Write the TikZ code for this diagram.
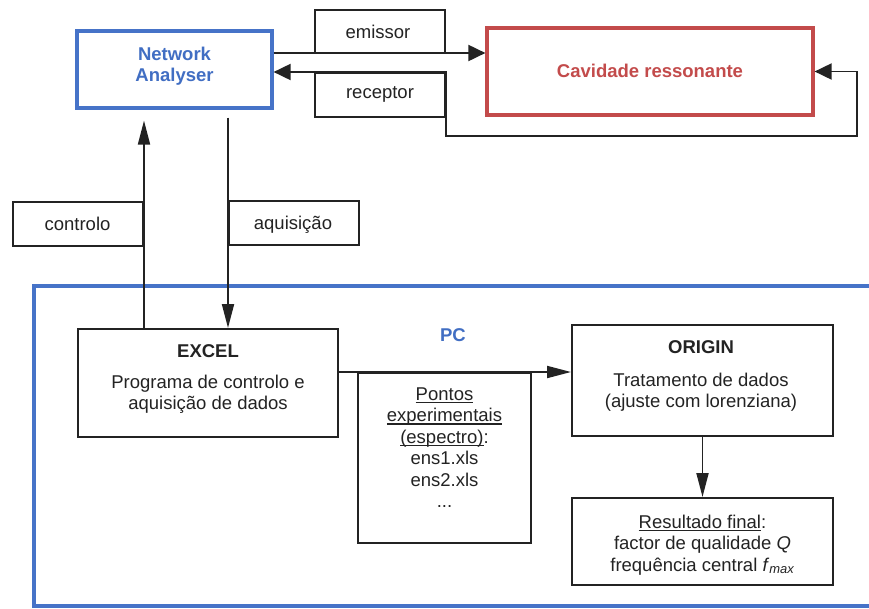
\documentclass[tikz,border=0pt]{standalone}
\usepackage{fontspec}
\setmainfont{Liberation Sans}
\usetikzlibrary{arrows.meta}
\definecolor{ink}{RGB}{35,35,35}
\definecolor{nablue}{RGB}{70,115,200}
\definecolor{cavred}{RGB}{195,75,75}
\definecolor{txtblue}{RGB}{65,110,195}
\newcommand\firstln{\rule{0pt}{14pt}}
\newcommand\myul[1]{\setbox0\hbox{#1}\rlap{\rule[-2.8pt]{\wd0}{1.1pt}}\box0}
\tikzset{
  box/.style={draw=ink, line width=2pt, inner sep=0pt, rectangle},
  bluebox/.style={draw=nablue, line width=3.2pt, inner sep=0pt, rectangle},
  redbox/.style={draw=cavred, line width=3.2pt, inner sep=0pt, rectangle},
  ln/.style={draw=ink, line width=1.9pt},
  harrow/.style={-{Triangle[length=17pt,width=16pt]}},
  varrow/.style={-{Triangle[length=24pt,width=12pt]}},
  txt/.style={inner sep=0pt, anchor=north, align=center, text=ink,
    font=\fontsize{18.5}{21.5}\selectfont},
}
\begin{document}
\begin{tikzpicture}[x=1pt,y=-1pt]
\useasboundingbox (0,0) rectangle (869,608);
\fill[white] (0,0) rectangle (869,608);

% PC frame (open on the right, runs off the picture)
\draw[draw=nablue, line width=3.2pt] (869,286) -- (34,286) -- (34,606) -- (869,606);
\node[txt, text=txtblue, font=\fontsize{18.5}{21.5}\selectfont\bfseries] (pc) at (453,327) {\firstln PC};

% boxes
\node[bluebox, minimum width=195, minimum height=77] (na) at (174.5,69.5) {};
\node[box, minimum width=130, minimum height=43] (emi) at (380,31.5) {};
\node[box, minimum width=130, minimum height=44] (rec) at (380,95) {};
\node[redbox, minimum width=326, minimum height=87] (cav) at (650,71.5) {};
\node[box, minimum width=130, minimum height=44] (ctl) at (78,224) {};
\node[box, minimum width=130, minimum height=44] (acq) at (294,223) {};
\node[box, minimum width=260, minimum height=108] (excel) at (208,383) {};
\node[box, minimum width=173, minimum height=170] (pts) at (444.5,458) {};
\node[box, minimum width=261, minimum height=111] (origin) at (702.5,380.5) {};
\node[box, minimum width=261, minimum height=87] (res) at (702.5,541.5) {};

% texts
\node[txt, text=txtblue, font=\fontsize{18.5}{21.5}\selectfont\bfseries] (natxt) at (174.5,46) {\firstln Network\\Analyser};
\node[txt] (emitxt) at (378,24) {\firstln emissor};
\node[txt] (rectxt) at (380,84) {\firstln receptor};
\node[txt, text=cavred, font=\fontsize{18.5}{21.5}\selectfont\bfseries] (cavtxt) at (650,63) {\firstln Cavidade ressonante};
\node[txt] (ctltxt) at (77.5,216) {\firstln controlo};
\node[txt] (acqtxt) at (293,215) {\firstln aquisição};
\node[txt] (exceltxt) at (208,343) {\firstln\textbf{EXCEL}\\[9.5pt]Programa de controlo e\\aquisição de dados};
\node[txt] (origintxt) at (701,339) {\firstln\textbf{ORIGIN}\\[11.5pt]Tratamento de dados\\(ajuste com lorenziana)};
\node[txt] (ptstxt) at (444.5,386) {\firstln\myul{Pontos}\\\myul{experimentais}\\\myul{(espectro)}:\\ens1.xls\\ens2.xls\\...};
\node[txt] (restxt) at (702.5,514) {\firstln\myul{Resultado final}:\\factor de qualidade \textit{Q}\\frequência central \textit{f}\textsubscript{\textit{max}}};

% connectors
\draw[ln, harrow] (na.east |- 0,53) -- (cav.west |- 0,53);
\draw[ln, {Triangle[length=17pt,width=16pt]}-{Triangle[length=17pt,width=16pt]}]
  (cav.east) -- (857,71.5) -- (857,136) -- (rec.south east |- 0,136) -- (rec.north east) -- (na.east |- rec.north);
\draw[ln, varrow, shorten >=11pt] (excel.north -| ctl.east) -- (na.south -| ctl.east);
\draw[ln, varrow, shorten <=8pt] (na.south -| acq.west) -- (excel.north -| acq.west);
\draw[ln, varrow] (excel.east |- pts.north) -- (origin.west |- pts.north);
\draw[ln, varrow] (origin.south) -- (res.north);
\end{tikzpicture}
\end{document}
